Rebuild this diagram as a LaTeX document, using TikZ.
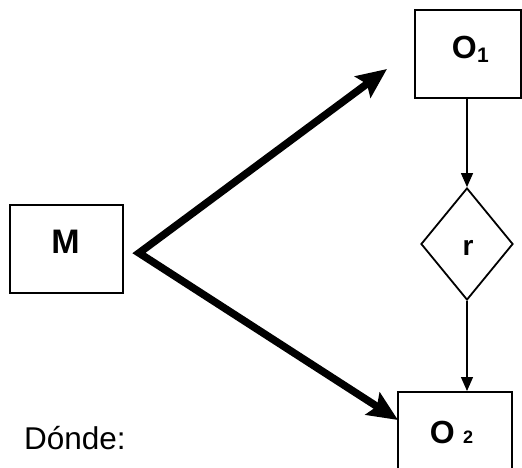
\documentclass[tikz,border=0pt]{standalone}
\usepackage{fontspec}
\setmainfont{Liberation Sans}
\usetikzlibrary{arrows.meta,shapes.geometric}
\begin{document}
\begin{tikzpicture}[x=1pt,y=-1pt,
  box/.style={draw,line width=2pt,minimum width=#1,minimum height=88pt,inner sep=0pt},
  bigarrow/.style={line width=7.5pt,line join=miter,{Stealth[length=30pt,width=26pt,inset=5pt]}-{Stealth[length=30pt,width=26pt,inset=5pt]}},
  thinarrow/.style={line width=1.3pt,-{Triangle[length=14pt,width=12pt]}},
  lab/.style={font=\fontsize{32}{34}\selectfont\bfseries,inner sep=0pt,anchor=base},
  sublab/.style={font=\fontsize{21}{23}\selectfont\bfseries,inner sep=0pt,anchor=base west},
  txt/.style={font=\fontsize{31.5}{33}\selectfont,inner sep=0pt,anchor=base west}]
\useasboundingbox (0,0) rectangle (522,468);
\node[box=113pt] (M) at (66.5,249) {};
\node[box=106pt] (O1) at (468,54) {};
\node[box=114pt] (O2) at (455,436) {};
\node[draw,diamond,line width=1.8pt,minimum width=92pt,minimum height=112pt,inner sep=0pt] (r) at (467,244) {};
% labels
\node[lab,font=\fontsize{34}{36}\selectfont\bfseries] (Mt) at (65.5,253) {M};
\node[lab,anchor=base east] (O1t) at (477,59) {O};
\node[sublab] (O1s) at (O1t.base east) [yshift=-4pt] {1};
\node[lab,anchor=base east] (O2t) at (455,443) {O};
\node[sublab,font=\fontsize{18}{20}\selectfont\bfseries] (O2s) at (463,443) {2};
\node[font=\fontsize{28}{30}\selectfont\bfseries,inner sep=0pt,anchor=base] (rt) at (468,255) {r};
\node[txt] (d) at (24,449) {Dónde:};
% connectors
\coordinate (S) at (139,253);
\coordinate (T1) at (387,69);
\coordinate (T2) at (398,420);
\draw[bigarrow] (T1) -- (S) -- (T2);
\draw[thinarrow] (r.north |- O1.south) -- (r.north);
\draw[thinarrow] (r.south) -- (r.south |- O2.north);
\end{tikzpicture}
\end{document}
